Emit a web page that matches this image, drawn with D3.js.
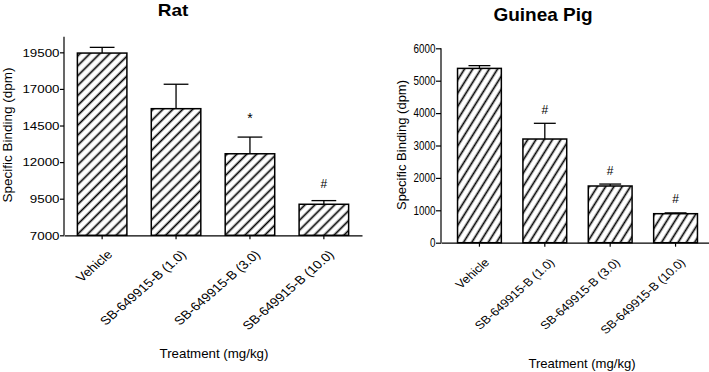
<!DOCTYPE html>
<html lang="en">
<head>
    <meta charset="UTF-8">
    <title>Specific Binding - Rat and Guinea Pig</title>
    <style>
        body {
            margin: 0;
            background: #fff;
        }
        svg text {
            font-family: "Liberation Sans", Arial, sans-serif;
            fill: #000;
        }
    </style>
    <script src="https://d3js.org/d3.v7.min.js"></script>
</head>
<body>
<svg id="chart" width="709" height="372"></svg>
<script>
    // Treatment groups (same for both panels)
    const treatments = ["Vehicle", "SB-649915-B (1.0)", "SB-649915-B (3.0)", "SB-649915-B (10.0)"];

    // Rat panel
    const ratMean = [19450, 15650, 12570, 9120];
    const ratSem = [390, 1670, 1140, 250];
    const ratMarks = ["", "", "*", "#"];
    const ratTicks = [7000, 9500, 12000, 14500, 17000, 19500];

    // Guinea pig panel
    const gpMean = [5380, 3200, 1750, 895];
    const gpSem = [85, 485, 60, 25];
    const gpMarks = ["", "#", "#", "#"];
    const gpTicks = [0, 1000, 2000, 3000, 4000, 5000, 6000];

    const svg = d3.select("#chart");

    // hatch patterns
    const defs = svg.append("defs");
    function hatch(id, angle) {
        const p = defs.append("pattern")
            .attr("id", id)
            .attr("patternUnits", "userSpaceOnUse")
            .attr("width", 7)
            .attr("height", 7)
            .attr("patternTransform", `rotate(${angle})`);
        p.append("rect").attr("width", 7).attr("height", 7).attr("fill", "#fff");
        p.append("line")
            .attr("x1", 3.5).attr("y1", -1)
            .attr("x2", 3.5).attr("y2", 8)
            .attr("stroke", "#000")
            .attr("stroke-width", 1.7);
    }
    hatch("hatchRat", 45);
    hatch("hatchGp", 32);

    function drawPanel(cfg) {
        const g = svg.append("g");

        const x = d3.scaleBand()
            .domain(treatments)
            .range(cfg.xRange)
            .paddingInner(0.33)
            .paddingOuter(cfg.outer);

        const y = d3.scaleLinear()
            .domain(cfg.yDomain)
            .range(cfg.yRange);

        // title
        g.append("text")
            .attr("transform", `translate(${cfg.titleX},${cfg.titleY}) scale(${cfg.titleSx},1)`)
            .attr("text-anchor", "middle")
            .style("font-size", cfg.titleSize)
            .style("font-weight", "bold")
            .text(cfg.title);

        // bars
        g.selectAll(".bar")
            .data(cfg.mean)
            .enter().append("rect")
            .attr("x", (d, i) => x(treatments[i]))
            .attr("y", d => y(d))
            .attr("width", x.bandwidth())
            .attr("height", d => y(cfg.yDomain[0]) - y(d))
            .attr("fill", `url(#${cfg.pattern})`)
            .attr("stroke", "#000")
            .attr("stroke-width", 1.5);

        // error bars (upper only)
        cfg.mean.forEach((m, i) => {
            const cx = x(treatments[i]) + x.bandwidth() / 2;
            const top = y(m + cfg.sem[i]);
            const cap = x.bandwidth() / 4;
            g.append("line")
                .attr("x1", cx).attr("x2", cx)
                .attr("y1", y(m)).attr("y2", top)
                .attr("stroke", "#000").attr("stroke-width", 1.3);
            g.append("line")
                .attr("x1", cx - cap).attr("x2", cx + cap)
                .attr("y1", top).attr("y2", top)
                .attr("stroke", "#000").attr("stroke-width", 1.3);
            if (cfg.marks[i]) {
                const star = cfg.marks[i] === "*";
                g.append("text")
                    .attr("x", cx)
                    .attr("y", top - (star ? 14 : cfg.markGap))
                    .attr("text-anchor", "middle")
                    .style("font-size", star ? "14px" : cfg.markSize)
                    .text(cfg.marks[i]);
            }
        });

        // y axis
        const yAxis = g.append("g")
            .attr("transform", `translate(${cfg.xRange[0]},0)`)
            .call(d3.axisLeft(y).tickValues(cfg.ticks).tickFormat(d3.format("d"))
                .tickSize(cfg.yTickLen).tickSizeOuter(0));
        yAxis.select(".domain").attr("d", `M0,${cfg.yRange[0]}V${cfg.yTop}`);
        yAxis.selectAll("text")
            .attr("x", 0)
            .attr("transform", `translate(${-cfg.yTickLen - 0.5},0) scale(${cfg.tickSx},1)`)
            .style("font-size", cfg.tickSize)
            .style("font-family", "Liberation Sans, Arial, sans-serif");
        yAxis.selectAll("path, line").attr("stroke", "#000").attr("stroke-width", 1.2);

        // x axis
        const xAxis = g.append("g")
            .attr("transform", `translate(0,${cfg.yRange[0]})`)
            .call(d3.axisBottom(x).tickSize(4).tickSizeOuter(0));
        xAxis.selectAll("path, line").attr("stroke", "#000").attr("stroke-width", 1.2);
        xAxis.selectAll("text")
            .attr("y", 0)
            .attr("dy", 0)
            .attr("transform", `translate(${cfg.labDx},${cfg.labDy}) scale(${cfg.labSx},1) rotate(-45)`)
            .style("text-anchor", "end")
            .style("font-size", cfg.labSize)
            .style("font-family", "Liberation Sans, Arial, sans-serif");

        // axis titles
        g.append("text")
            .attr("transform", `translate(${cfg.yTitleX},${cfg.yTitleY}) rotate(-90)`)
            .attr("text-anchor", "middle")
            .style("font-size", cfg.yTitleSize)
            .text("Specific Binding (dpm)");

        g.append("text")
            .attr("x", cfg.xTitleX)
            .attr("y", cfg.xTitleY)
            .attr("text-anchor", "middle")
            .style("font-size", cfg.xTitleSize)
            .text("Treatment (mg/kg)");
    }

    drawPanel({
        title: "Rat", titleSize: "16.5px", titleX: 173, titleY: 15.5, titleSx: 1.15,
        mean: ratMean, sem: ratSem, marks: ratMarks, ticks: ratTicks,
        pattern: "hatchRat",
        xRange: [64, 362], outer: 0.181,
        yDomain: [7000, 20500], yRange: [235.3, 37.7], yTop: 36.7, yTickLen: 4,
        tickSize: "11.6px", tickSx: 1.15,
        labSize: "12px", labSx: 1.15, labDx: 11, labDy: 20,
        markGap: 13, markSize: "12px",
        yTitleX: 11.5, yTitleY: 135, yTitleSize: "13.5px",
        xTitleX: 214, xTitleY: 358, xTitleSize: "13.3px"
    });

    drawPanel({
        title: "Guinea Pig", titleSize: "19px", titleX: 543, titleY: 20.5, titleSx: 1,
        mean: gpMean, sem: gpSem, marks: gpMarks, ticks: gpTicks,
        pattern: "hatchGp",
        xRange: [441, 714], outer: 0.253,
        yDomain: [0, 6000], yRange: [242.7, 48.3], yTop: 48.3, yTickLen: 5,
        tickSize: "12px", tickSx: 0.82,
        labSize: "11.4px", labSx: 1.12, labDx: 10.5, labDy: 20.5,
        markGap: 9.5, markSize: "12px",
        yTitleX: 405.5, yTitleY: 145, yTitleSize: "13px",
        xTitleX: 582, xTitleY: 368, xTitleSize: "13.1px"
    });
</script>
</body>
</html>
